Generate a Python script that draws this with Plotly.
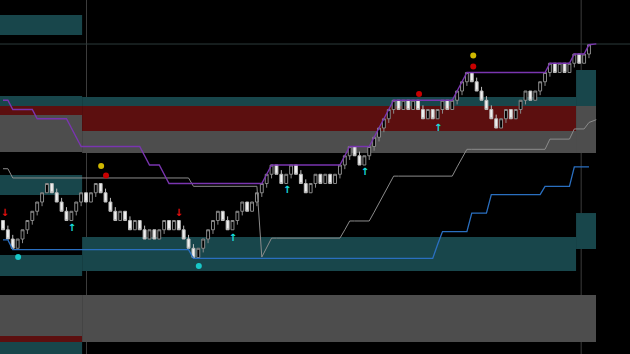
import plotly.graph_objects as go

# ---------------- data (price in box units) ----------------
brick_low = [3, 2, 1, 1, 2, 3, 4, 5, 6, 7,
             7, 6, 5, 4, 4, 5, 6, 6, 6, 7,
             7, 6, 5, 4, 4, 4, 3, 3, 3, 2,
             2, 2, 2, 3, 3, 3, 3, 2, 1, 0,
             0, 1, 2, 3, 4, 4, 3, 3, 4, 5,
             5, 5, 6, 7, 8, 9, 9, 8, 8, 9,
             9, 8, 7, 7, 8, 8, 8, 8, 8, 9,
             10, 11, 11, 10, 10, 11, 12, 13, 14, 15,
             16, 16, 16, 16, 16, 16, 15, 15, 15, 15,
             16, 16, 16, 17, 18, 19, 19, 18, 17, 16,
             15, 14, 14, 15, 15, 15, 16, 17, 17, 17,
             18, 19, 20, 20, 20, 20, 20, 21, 21, 21,
             22]
brick_dir = ("DDDUUUUUUU" "DDDDUUUDUU" "DDDDUDDUDD" "UDUUDUDDDD"
             "UUUUUDDUUU" "DUUUUUDDUU" "DDDUUDUDUU" "UUDDUUUUUU"
             "UDUDUDDUDU" "UDUUUUDDDD" "DDUUDUUUDU" "UUUDUDUUDU" "U")
wick_low_idx = [4, 5, 6, 7, 8, 15, 16, 19, 33, 41, 42, 43, 44, 48, 49, 52, 53, 54,
                55, 59, 64, 69, 70, 71, 75, 76, 77, 78, 79, 80, 90, 93, 94, 95,
                103, 106, 107, 110, 111, 112, 117, 120]
wick_high_idx = [1, 2, 11, 12, 13, 21, 22, 23, 26, 29, 37, 38, 39, 46, 57, 61, 62,
                 73, 86, 97, 98, 99, 100, 101]
wick_len = 0.45

line_x = list(range(121)) + [121.5]
upper_line = ([17, 17] + [16] * 5 + [15] * 7 + [14, 13] + [12] * 13 + [11] + [10] * 3
              + [9] + [8] * 20 + [9] + [10] * 15 + [11] + [12] * 5
              + [13, 14, 15, 16] + [17] * 13 + [18, 19] + [20] * 17 + [21] * 5
              + [22] * 3 + [23, 23.1])
mid_line = ([9.6, 9.6] + [8.6] * 37 + [7.7] * 14 + [0.05, 1.0] + [2.1] * 15 + [3.0]
            + [3.95] * 5 + [4.9, 5.9, 6.9, 7.8] + [8.8] * 13 + [9.8, 10.7]
            + [11.7] * 17 + [12.8] * 5 + [13.9] * 3 + [14.6, 14.9])
lower_line = ([1.9, 1.9] + [0.85] * 37 + [-0.1] * 50 + [1.4] + [2.8] * 6 + [4.8] * 4
              + [6.8] * 11 + [7.7] * 6 + [9.8] * 3 + [9.8])

red_arrow_x = [0.35, 36]
red_arrow_y = [4.8, 4.8]
cyan_arrow_x = [14.1, 47.1, 58.2, 74.1, 89.1]
cyan_arrow_y = [3.1, 2.1, 7.2, 9.15, 14.0]
cyan_dot_x = [3.1, 40.1]
cyan_dot_y = [0.05, -0.92]
yellow_dot_x = [20.1, 96.3]
yellow_dot_y = [9.9, 21.84]
red_dot_x = [21.1, 96.3, 85.2]
red_dot_y = [8.86, 20.65, 17.68]

# zones: x0, x1, y0, y1, kind
zone_x0 = [-1, -1, -1, -1, -1, -1, -1, -1, -1,
           16.2, 16.2, 16.2, 16.2, 16.2,
           117.35, 117.35, 117.35]
zone_x1 = [16.2, 16.2, 16.2, 16.2, 16.2, 16.2, 16.2, 16.2, 16.2,
           117.35, 117.35, 121.44, 117.35, 121.44,
           121.44, 121.44, 121.44]
zone_y0 = [24.05, 16.38, 15.41, 11.41, 6.76, -2.0, -8.49, -9.14, -11.0,
           16.38, 13.68, 11.3, -1.46, -9.14,
           16.38, 11.3, 0.92]
zone_y1 = [26.22, 17.46, 16.38, 15.41, 8.92, 0.27, -4.05, -8.49, -9.14,
           17.35, 16.38, 13.68, 2.22, -4.05,
           20.27, 16.38, 4.81]
zone_kind = ["teal", "teal", "red", "grey", "teal", "teal", "grey", "red", "teal",
             "teal", "red", "grey", "teal", "grey",
             "teal", "grey", "teal"]
zone_colors = {"teal": "#18464b", "red": "#5c0f0f", "grey": "#4d4d4d"}

sep_x = [17.1, 118.4]
sep_y = [23.08]

# ---------------- build ----------------
opens, closes, highs, lows = [], [], [], []
for i, (b, d) in enumerate(zip(brick_low, brick_dir)):
    if d == "U":
        o, c = b, b + 1
    else:
        o, c = b + 1, b
    hi = b + 1 + (wick_len if i in wick_high_idx else 0)
    lo = b - (wick_len if i in wick_low_idx else 0)
    opens.append(o); closes.append(c); highs.append(hi); lows.append(lo)

fig = go.Figure()

shapes = []
for x0, x1, y0, y1, k in zip(zone_x0, zone_x1, zone_y0, zone_y1, zone_kind):
    shapes.append(dict(type="rect", xref="x", yref="y", x0=x0, x1=x1, y0=y0, y1=y1,
                       fillcolor=zone_colors[k], line=dict(width=0), layer="below"))
for sx in sep_x:
    shapes.append(dict(type="line", xref="x", yref="paper", x0=sx, x1=sx, y0=0, y1=1,
                       line=dict(color="#3c3c3c", width=1), layer="below"))
for sy in sep_y:
    shapes.append(dict(type="line", xref="paper", yref="y", x0=0, x1=1, y0=sy, y1=sy,
                       line=dict(color="#2c3a3b", width=1), layer="below"))

fig.add_trace(go.Scatter(x=line_x, y=lower_line, mode="lines",
                         line=dict(color="#2a6fc0", width=1.3, shape="linear")))
fig.add_trace(go.Scatter(x=line_x, y=mid_line, mode="lines",
                         line=dict(color="#8c8c8c", width=1)))
fig.add_trace(go.Scatter(x=line_x, y=upper_line, mode="lines",
                         line=dict(color="#7a35b0", width=1.4)))

fig.add_trace(go.Candlestick(
    x=list(range(len(brick_low))), open=opens, high=highs, low=lows, close=closes,
    increasing=dict(fillcolor="#000000", line=dict(color="#8a8a8a", width=1)),
    decreasing=dict(fillcolor="#f0f0f0", line=dict(color="#bdbdbd", width=1)),
    whiskerwidth=0, hoverinfo="skip"))

fig.add_trace(go.Scatter(x=red_arrow_x, y=red_arrow_y, mode="text", text=["<b>↓</b>"] * 2,
                         textfont=dict(color="#e01010", size=10, family="DejaVu Sans")))
fig.add_trace(go.Scatter(x=cyan_arrow_x, y=cyan_arrow_y, mode="text", text=["<b>↑</b>"] * 5,
                         textfont=dict(color="#18e0e0", size=10, family="DejaVu Sans")))
fig.add_trace(go.Scatter(x=cyan_dot_x, y=cyan_dot_y, mode="markers",
                         marker=dict(symbol="circle", size=6, color="#18c8c8",
                                     line=dict(width=0))))
fig.add_trace(go.Scatter(x=yellow_dot_x, y=yellow_dot_y, mode="markers",
                         marker=dict(symbol="circle", size=6, color="#d0b800",
                                     line=dict(width=0))))
fig.add_trace(go.Scatter(x=red_dot_x, y=red_dot_y, mode="markers",
                         marker=dict(symbol="circle", size=6, color="#c80000",
                                     line=dict(width=0))))

fig.update_layout(
    width=630, height=354, margin=dict(l=0, r=0, t=0, b=0),
    paper_bgcolor="#000000", plot_bgcolor="#000000",
    showlegend=False, shapes=shapes, boxgap=0.15, hovermode=False,
    xaxis=dict(range=[-0.614, 128.4], visible=False, rangeslider=dict(visible=False),
               showgrid=False, zeroline=False),
    yaxis=dict(range=[-10.43, 27.84], visible=False, showgrid=False, zeroline=False),
)

fig.write_html("out.html")
